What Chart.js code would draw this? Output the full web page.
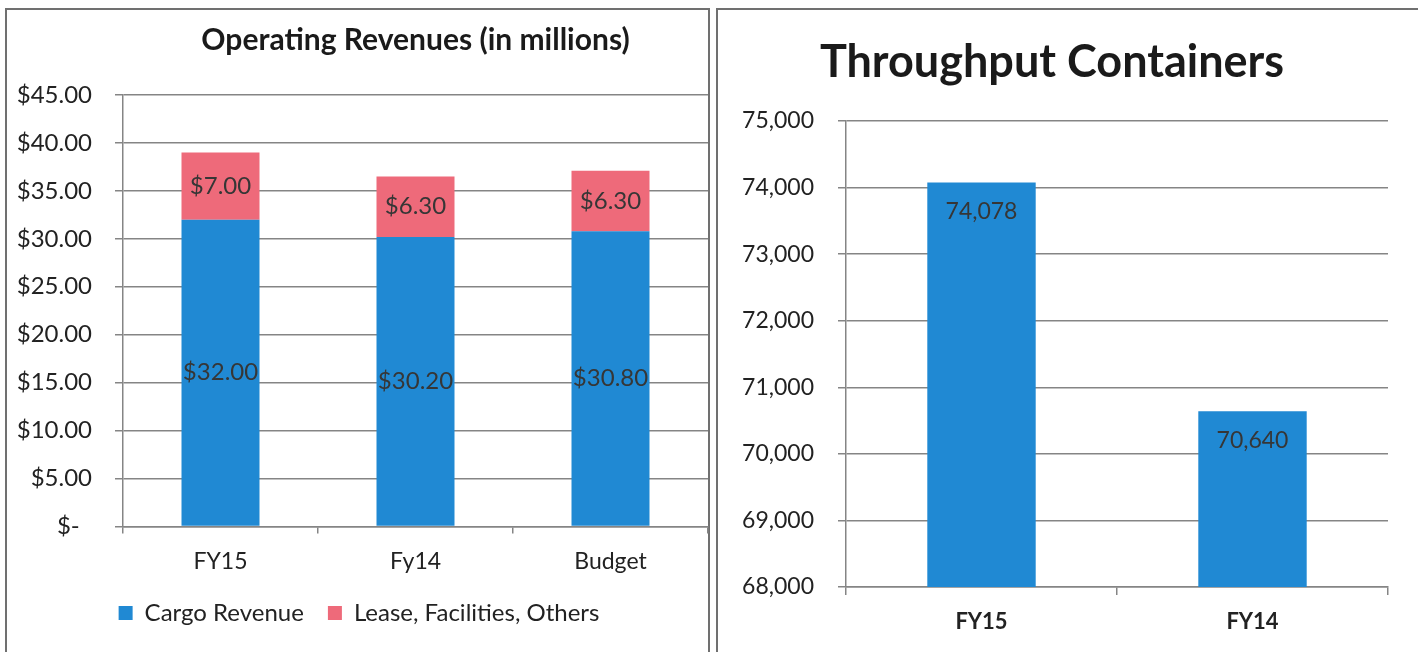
<!DOCTYPE html>
<html>
<head>
<meta charset="utf-8">
<script src="https://cdn.jsdelivr.net/npm/chart.js@4"></script>
<style>
  html, body { margin: 0; padding: 0; background: #fff; width: 1418px; height: 652px; overflow: hidden; }
  .panel { position: absolute; top: 8px; height: 700px; border: 2px solid #707070; box-sizing: border-box; }
  #p1 { left: 5px; width: 705px; }
  #p2 { left: 716px; width: 720px; }
  #wrap1 { position: absolute; left: 0; top: 0; width: 710px; height: 652px; }
  #wrap2 { position: absolute; left: 716px; top: 0; width: 702px; height: 652px; }
</style>
</head>
<body>
<div class="panel" id="p1"></div>
<div class="panel" id="p2"></div>
<div id="wrap1"><canvas id="revChart"></canvas></div>
<div id="wrap2"><canvas id="teuChart"></canvas></div>
<script>
var revLabels = ["FY15", "Fy14", "Budget"];
var cargoRevenue = [32.00, 30.20, 30.80];
var leaseRevenue = [7.00, 6.30, 6.30];

var teuLabels = ["FY15", "FY14"];
var teuValues = [74078, 70640];

var FONT = "Lato, 'Noto Sans', sans-serif";
var BLUE = "#2089D3";
var PINK = "#EE6A7A";
var GRID = "#858585";

// draws value text on each bar, either centred or near the top
var barLabels = {
  id: 'barLabels',
  afterDatasetsDraw: function(chart, args, opts) {
    var ctx = chart.ctx;
    ctx.save();
    ctx.font = opts.size + "px " + FONT;
    ctx.fillStyle = "#363636";
    ctx.textAlign = "center";
    ctx.textBaseline = "middle";
    chart.data.datasets.forEach(function(ds, i) {
      var meta = chart.getDatasetMeta(i);
      meta.data.forEach(function(bar, j) {
        var p = bar.getProps(['x', 'y', 'base'], true);
        var y = opts.position === 'top' ? p.y + opts.offset : (p.y + p.base) / 2;
        ctx.fillText(opts.format(ds.data[j]), p.x, y);
      });
    });
    ctx.restore();
  }
};

var ctx = document.getElementById('revChart').getContext("2d");

var revChart = new Chart(ctx, {
  type: 'bar',
  data: {
    labels: revLabels,
    datasets: [{
        label: "Cargo Revenue",
        backgroundColor: BLUE,
        borderWidth: 0,
        data: cargoRevenue
      },
      {
        label: "Lease, Facilities, Others",
        backgroundColor: PINK,
        borderWidth: 0,
        data: leaseRevenue
      }
    ]
  },
  plugins: [barLabels],
  options: {
    responsive: true,
    maintainAspectRatio: false,
    animation: false,
    layout: { padding: { left: 10, right: 2, top: 0, bottom: 17 } },
    datasets: { bar: { categoryPercentage: 0.4, barPercentage: 1 } },
    scales: {
      x: {
        stacked: true,
        grid: { drawOnChartArea: false, color: GRID, lineWidth: 1.5, tickLength: 7, tickColor: GRID },
        border: { color: GRID, width: 1.5 },
        ticks: { color: "#222", padding: 14, font: { family: FONT, size: 23 } },
        afterFit: function(scale) { scale.height = 50.6; }
      },
      y: {
        stacked: true,
        min: 0,
        max: 45,
        ticks: {
          stepSize: 5,
          color: "#222",
          padding: 23,
          font: { family: FONT, size: 24 },
          callback: function(v) { return v === 0 ? "$-  " : "$" + v.toFixed(2); }
        },
        grid: { color: GRID, lineWidth: 1.5, tickLength: 8 },
        border: { color: GRID, width: 1.5 },
        afterFit: function(scale) { scale.width = 113; }
      }
    },
    plugins: {
      title: {
        display: true,
        fullSize: false,
        text: "Operating Revenues (in millions)",
        color: "#1a1a1a",
        font: { family: FONT, size: 30, weight: 'bold' },
        padding: { top: 22, bottom: 37 }
      },
      legend: {
        display: true,
        position: 'bottom',
        labels: {
          color: "#222",
          boxWidth: 14,
          boxHeight: 14,
          padding: 24,
          font: { family: FONT, size: 24 }
        }
      },
      tooltip: { enabled: false },
      barLabels: {
        size: 24,
        position: 'center',
        offset: 0,
        format: function(v) { return "$" + v.toFixed(2); }
      }
    }
  }
});


var ctx = document.getElementById('teuChart').getContext("2d");

var teuChart = new Chart(ctx, {
  type: 'bar',
  data: {
    labels: teuLabels,
    datasets: [{
        label: "Throughput Containers",
        backgroundColor: BLUE,
        borderWidth: 0,
        data: teuValues
      }
    ]
  },
  plugins: [barLabels],
  options: {
    responsive: true,
    maintainAspectRatio: false,
    animation: false,
    layout: { padding: { left: 0, right: 30, top: 0, bottom: 0 } },
    datasets: { bar: { categoryPercentage: 0.4, barPercentage: 1 } },
    scales: {
      x: {
        grid: { drawOnChartArea: false, color: GRID, lineWidth: 1.5, tickLength: 8, tickColor: GRID },
        border: { color: GRID, width: 1.5 },
        ticks: { color: "#222", padding: 14, font: { family: FONT, size: 22, weight: 'bold' } },
        afterFit: function(scale) { scale.height = 65; }
      },
      y: {
        min: 68000,
        max: 75000,
        ticks: {
          stepSize: 1000,
          color: "#222",
          padding: 24,
          font: { family: FONT, size: 23 },
          callback: function(v) { return v.toLocaleString('en-US'); }
        },
        grid: { color: GRID, lineWidth: 1.5, tickLength: 8 },
        border: { color: GRID, width: 1.5 },
        afterFit: function(scale) { scale.width = 130; }
      }
    },
    plugins: {
      title: {
        display: true,
        text: "Throughput Containers",
        color: "#1a1a1a",
        font: { family: FONT, size: 45, weight: 'bold' },
        padding: { top: 35, bottom: 32 }
      },
      legend: { display: false },
      tooltip: { enabled: false },
      barLabels: {
        size: 23,
        position: 'top',
        offset: 29,
        format: function(v) { return v.toLocaleString('en-US'); }
      }
    }
  }
});
</script>
</body>
</html>
